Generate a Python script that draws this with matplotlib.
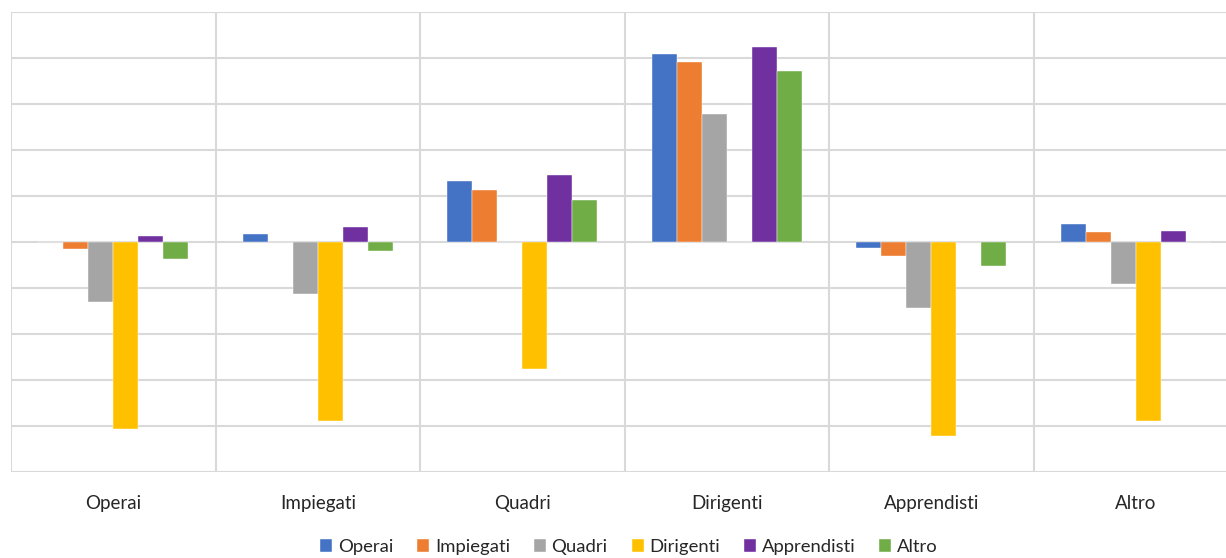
import numpy as np
import matplotlib
matplotlib.use("Agg")
from matplotlib import pyplot as plt

# categorie sull'asse x e serie (una per colore)
categorie = ["Operai", "Impiegati", "Quadri", "Dirigenti", "Apprendisti", "Altro"]
serie = ["Operai", "Impiegati", "Quadri", "Dirigenti", "Apprendisti", "Altro"]

# valori (unita' = una riga della griglia)
operai      = [0.00, 0.16, 1.31, 4.08, -0.14, 0.38]
impiegati   = [-0.17, 0.00, 1.13, 3.90, -0.31, 0.21]
quadri      = [-1.31, -1.14, 0.00, 2.77, -1.45, -0.93]
dirigenti   = [-4.08, -3.91, -2.78, 0.00, -4.22, -3.91]
apprendisti = [0.13, 0.31, 1.44, 4.22, 0.00, 0.23]
altro       = [-0.39, -0.21, 0.91, 3.70, -0.53, 0.00]

valori = [operai, impiegati, quadri, dirigenti, apprendisti, altro]
colori = ["#4472C4", "#ED7D31", "#A5A5A5", "#FFC000", "#7030A0", "#70AD47"]

plt.rcParams['font.family'] = ['Lato', 'DejaVu Sans']

fig = plt.figure(figsize=(12.26, 5.58), dpi=100)
ax = fig.add_axes([11/1226, 1 - 471.5/558, 1227/1226, 460/558])

x = np.arange(len(categorie))
width = 25/204.5
for i, (nome, v) in enumerate(zip(serie, valori)):
    ax.bar(x + (i - 2.5)*width, v, width, color=colori[i], label=nome,
           edgecolor='white', linewidth=0.3, zorder=3)

ax.set_xlim(-0.5, 5.5)
ax.set_ylim(-5, 5)
ax.set_yticks(np.arange(-5, 6, 1))
ax.set_yticklabels([])
ax.set_xticks(x)
ax.set_xticklabels(categorie, fontsize=13.5, color='#262626')
ax.set_xticks(np.arange(-0.5, 6.0, 1), minor=True)
ax.tick_params(axis='x', which='both', length=0, pad=17)
ax.tick_params(axis='y', length=0)
ax.grid(True, axis='y', color='#d9d9d9', linewidth=1.5, zorder=0)
ax.grid(True, axis='x', which='minor', color='#d9d9d9', linewidth=1.5, zorder=0)
for s in ax.spines.values():
    s.set_visible(False)

fig.legend(loc='center', bbox_to_anchor=(0.513, 1 - 547/558), ncol=6,
           frameon=False, fontsize=13.3, handlelength=0.65, handleheight=0.65,
           handletextpad=0.3, columnspacing=1.3, labelcolor='#262626')

plt.savefig("out.png", dpi=100)
